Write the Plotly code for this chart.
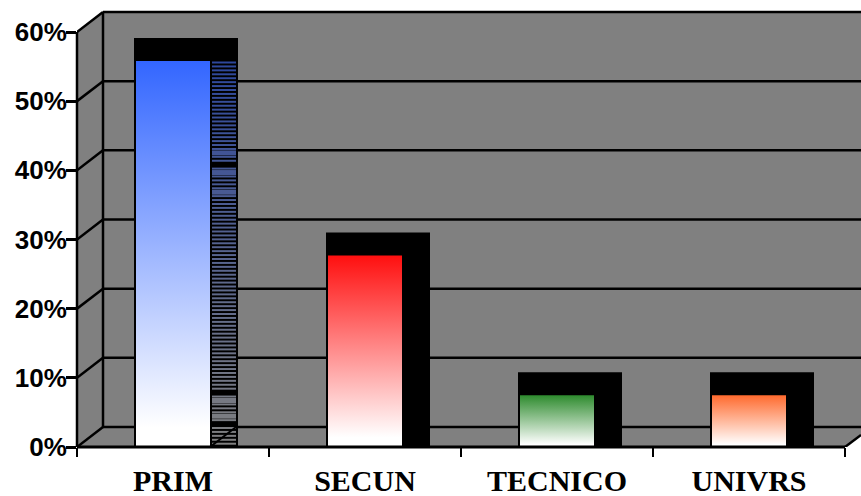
import plotly.graph_objects as go

categories = ["PRIM", "SECUN", "TECNICO", "UNIVRS"]
shares = [55.8, 27.7, 7.5, 7.5]
top_colors = ["#3366ff", "#ff0f0f", "#2e8b2e", "#ff6a2e"]
y_ticks = [0, 10, 20, 30, 40, 50, 60]
y_labels = ["0%", "10%", "20%", "30%", "40%", "50%", "60%"]

W, H = 861, 496
L, R, T, B = 77, 0, 6, 49
PX_X = 192.0
PX_Y = 415 / 60
GRAY = "#808080"
LW = 2.5

def dx(px):
    return px / PX_X

def dy(px):
    return px / PX_Y

x_max = (W - L - R) / PX_X
y_max = (H - T - B) / PX_Y
DEPTH_X, DEPTH_Y = dx(26), dy(20)
n = len(categories)
centers = [i + 0.5 for i in range(n)]

shapes = []
def poly(pts, fill):
    path = "M" + " L".join(f"{a},{b}" for a, b in pts) + " Z"
    shapes.append(dict(type="path", path=path, fillcolor=fill, line=dict(width=0), layer="below"))

def seg(x0, y0, x1, y1, layer="below", width=LW):
    shapes.append(dict(type="line", x0=x0, y0=y0, x1=x1, y1=y1,
                       line=dict(color="black", width=width), layer=layer))

# walls
poly([(DEPTH_X, DEPTH_Y), (x_max, DEPTH_Y), (x_max, 60 + DEPTH_Y), (DEPTH_X, 60 + DEPTH_Y)], GRAY)
poly([(0, 0), (DEPTH_X, DEPTH_Y), (DEPTH_X, 60 + DEPTH_Y), (0, 60)], GRAY)
poly([(0, 0), (n, 0), (x_max, dy(12)), (x_max, DEPTH_Y), (DEPTH_X, DEPTH_Y)], GRAY)
for t in y_ticks:
    seg(0, t, DEPTH_X, t + DEPTH_Y)
    seg(DEPTH_X, t + DEPTH_Y, x_max, t + DEPTH_Y)
seg(DEPTH_X, DEPTH_Y, DEPTH_X, 60 + DEPTH_Y)
seg(n, 0, x_max, dy(12))

# axis lines (paper-anchored so they are not clipped at the plot edge)
shapes.append(dict(type="line", xref="x", yref="paper", x0=0, x1=n, y0=0, y1=0,
                   line=dict(color="black", width=3), layer="above"))
shapes.append(dict(type="line", xref="paper", yref="y", x0=0, x1=0, y0=0, y1=60,
                   line=dict(color="black", width=2.5), layer="above"))
# floor diagonal crossing the first bar's hatched side
seg(centers[0] + dx(37), 0, centers[0] + dx(63), DEPTH_Y, layer="above", width=2)

fig = go.Figure()

# black body of each bar (front outline, top and side)
fig.add_trace(go.Bar(
    x=centers,
    y=[v + dy(23) for v in shares],
    width=dx(104),
    offset=-dx(39),
    marker=dict(color="black", line=dict(width=0)),
    hoverinfo="skip",
))

# hatching on the side of the first bar
stripe_top = 62.5
stripe_step = 3.93
thick_px = [153, 172, 193, 399, 418]
missing_px = [166, 391, 425]
k = 0
while stripe_top + k * stripe_step < 446:
    py = stripe_top + k * stripe_step
    k += 1
    if any(abs(py - m) < 2 for m in missing_px):
        continue
    f = (py - stripe_top) / (446 - stripe_top)
    r = round(0x2d + (0x80 - 0x2d) * f)
    g = round(0x47 + (0x80 - 0x47) * f)
    b = round(0x9c + (0x80 - 0x9c) * f)
    w = 5 if any(abs(py - m) < 2 for m in thick_px) else 2
    v = (447 - py) / PX_Y
    fig.add_trace(go.Scatter(
        x=[centers[0] + dx(39), centers[0] + dx(63)], y=[v, v], mode="lines",
        line=dict(color=f"rgb({r},{g},{b})", width=w), hoverinfo="skip",
    ))

# gradient front faces
for c, v, col in zip(centers, shares, top_colors):
    a, b = c - dx(37), c + dx(37)
    fig.add_trace(go.Scatter(
        x=[a, b, b, a, a], y=[0, 0, v, v, 0], mode="lines",
        line=dict(width=0), fill="toself",
        fillgradient=dict(type="vertical",
                          colorscale=[[0, "#ffffff"], [0.05, "#ffffff"], [1, col]]),
        hoverinfo="skip",
    ))

fig.update_layout(
    width=W, height=H, margin=dict(l=L, r=R, t=T, b=B, pad=0),
    paper_bgcolor="white", plot_bgcolor="white", showlegend=False,
    barmode="overlay", shapes=shapes,
    xaxis=dict(
        range=[0, x_max], showgrid=False, zeroline=False, showline=False, automargin=False,
        tickmode="array", tickvals=centers, ticktext=categories,
        ticks="outside", ticklen=7, tickcolor="rgba(0,0,0,0)", tickwidth=1,
        tickfont=dict(family="Liberation Serif", size=30, color="black", weight="bold"),
        minor=dict(tickmode="array", tickvals=list(range(n + 1)), ticks="outside",
                   ticklen=9, tickwidth=2, tickcolor="black", showgrid=False),
    ),
    yaxis=dict(
        range=[0, y_max], showgrid=False, zeroline=False, showline=False, automargin=False,
        tickmode="array", tickvals=y_ticks, ticktext=y_labels,
        ticks="outside", ticklen=10, tickwidth=2.5, tickcolor="black",
        ticklabelstandoff=-6,
        tickfont=dict(family="Liberation Sans", size=26, color="black", weight="bold"),
    ),
)

fig.write_html("out.html", config=dict(displayModeBar=False),
               post_script="document.body.style.margin='0';document.documentElement.style.overflow='hidden';")
